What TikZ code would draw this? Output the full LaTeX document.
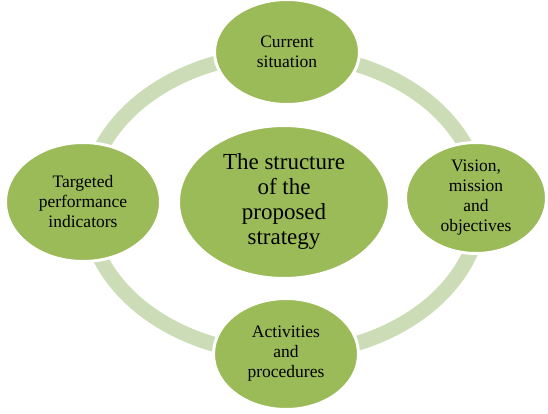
\documentclass[tikz,border=0pt]{standalone}
\usepackage{fontspec}
\setmainfont{Liberation Serif}
\usetikzlibrary{shapes.geometric}
\definecolor{leaf}{HTML}{9BBB59}
\definecolor{ringc}{HTML}{CCDCB6}
\tikzset{
  bubble/.style={ellipse, fill=leaf, draw=white, line width=3pt, inner sep=0pt, align=center, text=black},
  small/.style={font=\fontsize{17.5}{20}\selectfont},
  big/.style={font=\fontsize{23}{25}\selectfont},
  ring/.style={draw=ringc, line width=15pt}
}
\begin{document}
\begin{tikzpicture}[x=1pt,y=-1pt]
\useasboundingbox (0,0) rectangle (548,414);
\coordinate (rc) at (284,204);
\draw[ring] (rc) ellipse [x radius=197pt, y radius=150pt];
\node[bubble, big, minimum width=211pt, minimum height=153pt] (mid) at (284,202) {The structure\\of the\\proposed\\strategy};
\node[bubble, small, minimum width=145pt, minimum height=105pt] (top) at (287,52) {Current\\situation};
\node[bubble, small, minimum width=141pt, minimum height=111pt] (right) at (476,198) {Vision,\\mission\\and\\objectives};
\node[bubble, small, minimum width=145pt, minimum height=111pt] (bottom) at (286,354) {Activities\\and\\procedures};
\node[bubble, small, minimum width=155pt, minimum height=119pt] (left) at (83,202) {Targeted\\performance\\indicators};
\end{tikzpicture}
\end{document}
